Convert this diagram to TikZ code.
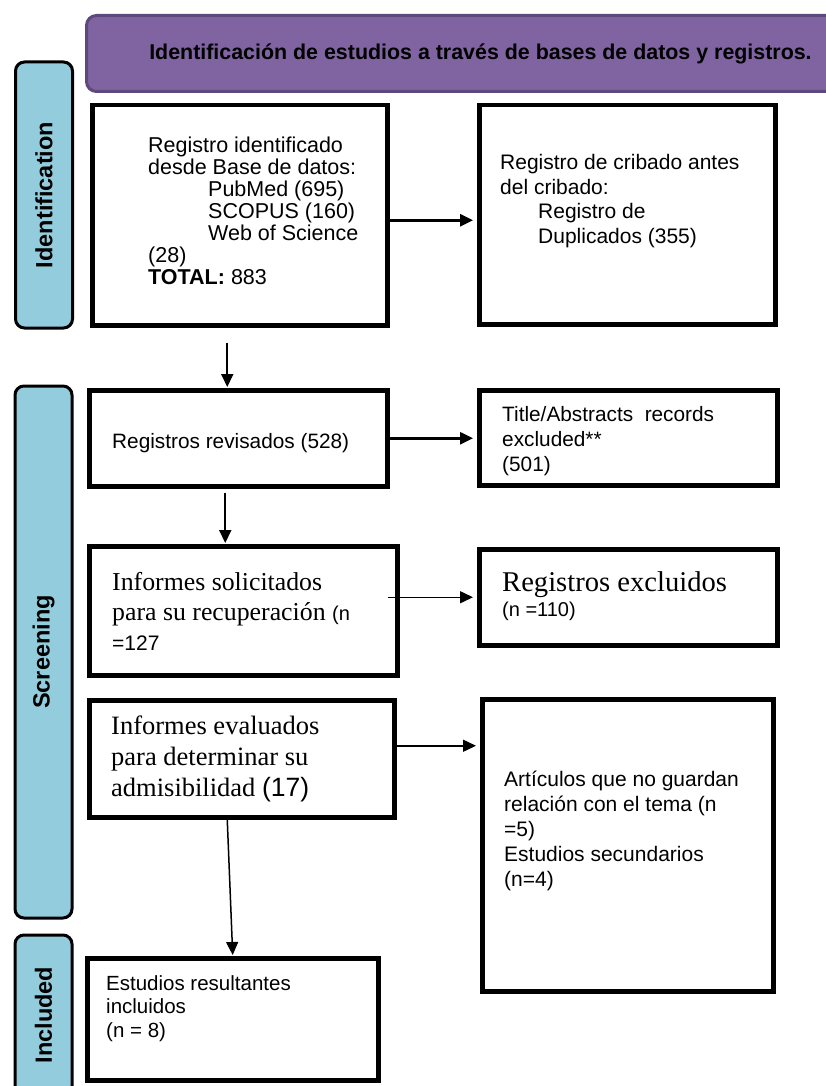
\documentclass[tikz,border=0pt]{standalone}
\usepackage{fontspec}
\setmainfont{Liberation Sans}
\newfontfamily\timesfont{Liberation Serif}
\usetikzlibrary{arrows.meta}
\definecolor{tabblue}{RGB}{147,205,221}
\definecolor{hdrfill}{RGB}{128,100,162}
\definecolor{hdrline}{RGB}{94,73,125}

\begin{document}
\begin{tikzpicture}[x=1pt, y=-1pt,
		box/.style={draw=black, line width=4.5pt, anchor=north west, inner sep=0pt},
		txt/.style={anchor=north west, inner sep=0pt, align=left, font=\fontsize{21}{24.5}\selectfont},
		tab/.style={draw=black, line width=3pt, fill=tabblue, rounded corners=9pt, rotate=90, minimum height=57pt, inner sep=0pt, font=\bfseries\fontsize{23.5}{26}\selectfont},
		arr/.style={-{Triangle[length=13pt, width=12pt]}, line width=2.5pt, shorten >=4pt},
		thinarr/.style={arr, line width=1.5pt}]
			%%%%% START %%%%%
			\path[use as bounding box] (0,0) rectangle (826,1086);
			\clip (0,0) rectangle (826,1086);
			
			\node[draw=hdrline, line width=3pt, fill=hdrfill, rounded corners=10pt, anchor=north west, minimum width=788pt, minimum height=76pt, inner sep=0pt, font=\bfseries\fontsize{21.4}{24}\selectfont] (hdr) at (85,14) {Identificación de estudios a través de bases de datos y registros.};
			
			\node[tab, minimum width=266pt] (tabident) at (44,195) {Identification};
			\node[tab, minimum width=532pt] (tabscreen) at (43.5,652) {Screening};
			\node[tab, minimum width=160pt] (tabincl) at (43.5,1015) {Included};
			
			% boxes
			\node[box, minimum width=295pt, minimum height=220pt] (ident) at (90,103) {};
			\node[box, minimum width=296pt, minimum height=219pt] (dupl) at (477,103) {};
			\node[box, minimum width=298pt, minimum height=96pt] (revis) at (87,388) {};
			\node[box, minimum width=298pt, minimum height=95pt] (titab) at (477,388) {};
			\node[box, minimum width=308pt, minimum height=129pt] (recup) at (87,544) {};
			\node[box, minimum width=298pt, minimum height=96pt] (excl) at (477,547) {};
			\node[box, minimum width=305pt, minimum height=117pt] (evalu) at (87,698) {};
			\node[box, minimum width=291pt, minimum height=292pt] (artic) at (480,697) {};
			\node[box, minimum width=291pt, minimum height=122pt] (concl) at (85,956) {};
			
			% texts
			\node[txt, font=\fontsize{21.5}{22}\selectfont] (identtxt) at (148,137) {Registro identificado\\desde Base de datos:\\\hspace*{60pt}PubMed (695)\\\hspace*{60pt}SCOPUS (160)\\\hspace*{60pt}Web of Science\\(28)\\\textbf{TOTAL:} 883};
			\node[txt, font=\fontsize{21}{24.7}\selectfont] (dupltxt) at (500,154) {Registro de cribado antes\\del cribado:\\\hspace*{38pt}Registro de\\\hspace*{38pt}Duplicados (355)};
			\node[txt, font=\fontsize{20.8}{24}\selectfont] (revistxt) at (112,433) {Registros revisados (528)};
			\node[txt, font=\fontsize{20.8}{25}\selectfont] (titabtxt) at (502,406) {Title/Abstracts\ \ records\\excluded**\\(501)};
			\node[txt, font=\timesfont\fontsize{25.8}{30}\selectfont] (recuptxt) at (112,572) {Informes solicitados\\para su recuperación {\normalfont\fontsize{20}{30}\selectfont (n}\\{\normalfont\fontsize{21}{30}\selectfont =127}};
			\node[txt, font=\timesfont\fontsize{28.6}{25}\selectfont] (excltxt) at (502,571) {Registros excluidos\\{\normalfont\fontsize{20}{25}\selectfont (n =110)}};
			\node[txt, font=\timesfont\fontsize{26.5}{31}\selectfont] (evalutxt) at (111,716) {Informes evaluados\\para determinar su\\admisibilidad {\normalfont (17)}};
			\node[txt, font=\fontsize{21}{25}\selectfont] (artictxt) at (504,771) {Artículos que no guardan\\relación con el tema (n\\=5)\\Estudios secundarios\\(n=4)};
			\node[txt, font=\fontsize{20.5}{23.5}\selectfont] (concltxt) at (106,975) {Estudios resultantes\\incluidos\\(n = 8)};
			
			% arrows
			\draw[arr] ([yshift=-5pt]ident.east) -- ([yshift=-5pt]ident.east -| dupl.west);
			\draw[arr, line width=2pt, shorten >=1pt] ([xshift=-12.5pt, yshift=-15pt]ident.south) -- ([xshift=-12.5pt]ident.south |- revis.north);
			\draw[arr] (revis.east) -- (revis.east -| titab.west);
			\draw[arr, line width=2pt, shorten >=1pt] ([xshift=-13pt, yshift=-4pt]revis.south) -- ([xshift=-13pt]revis.south |- recup.north);
			\draw[thinarr] ([xshift=-12pt]recup.east |- excl.west) -- (excl.west);
			\draw[thinarr] ([yshift=13pt]evalu.east) -- ([yshift=13pt]evalu.east -| artic.west);
			\draw[thinarr, shorten >=1pt] ([xshift=-14.5pt]evalu.south) -- (concl.north);
			%%%%% END %%%%%
\end{tikzpicture}
\end{document}
